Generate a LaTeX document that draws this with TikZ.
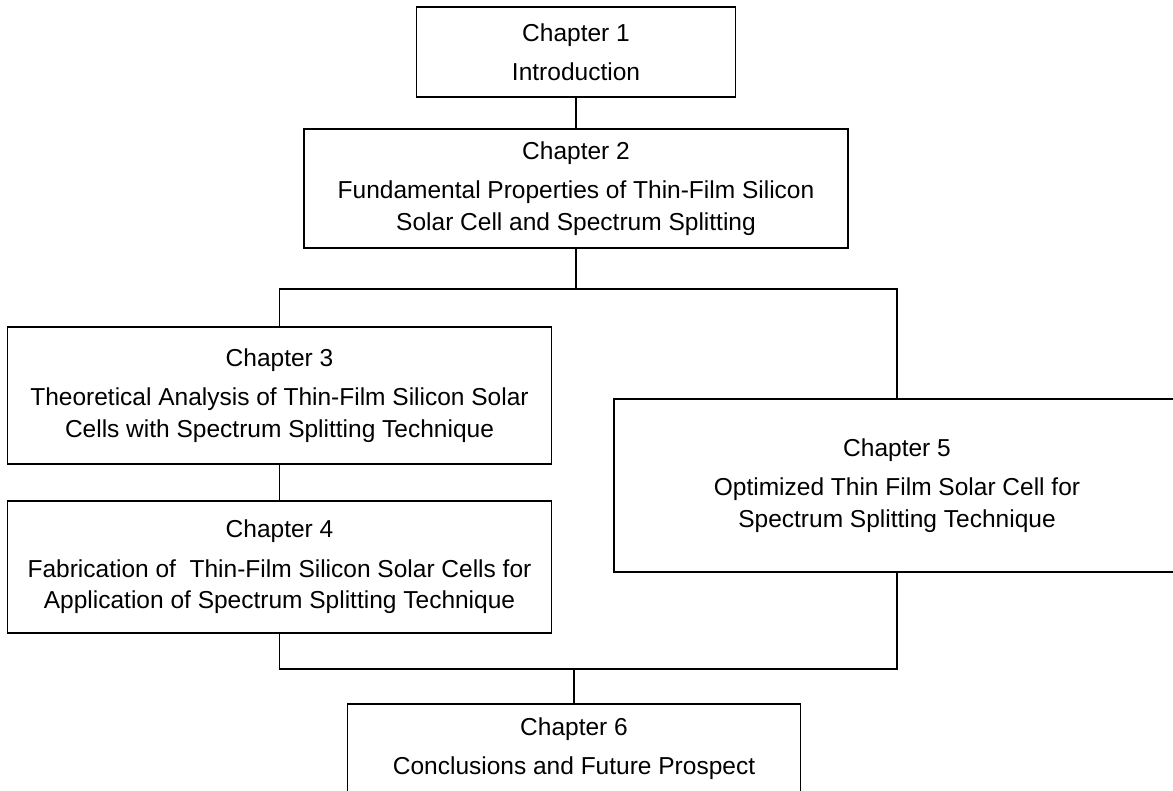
\documentclass[tikz,border=0pt]{standalone}
\usepackage{fontspec}
\setmainfont{Liberation Sans}
\begin{document}
\begin{tikzpicture}[x=1pt,y=-1pt,
  chbox/.style={draw=black, line width=1.3pt, rectangle, inner sep=0pt, align=center,
    font=\fontsize{24.5}{31.5}\selectfont},
  conn/.style={draw=black, line width=1.3pt}]
\useasboundingbox (0,0) rectangle (1173,791);
\clip (0,0) rectangle (1173,791);
\node[chbox, minimum width=319pt, minimum height=90pt] (c1) at (576,52)
  {Chapter 1\\[8pt]Introduction};
\node[chbox, minimum width=544pt, minimum height=119pt] (c2) at (576,188.5)
  {Chapter 2\\[8pt]Fundamental Properties of Thin-Film Silicon\\Solar Cell and Spectrum Splitting};
\node[chbox, minimum width=544pt, minimum height=137pt] (c3) at (279.5,395.5)
  {Chapter 3\\[8pt]Theoretical Analysis of Thin-Film Silicon Solar\\Cells with Spectrum Splitting Technique};
\node[chbox, minimum width=544pt, minimum height=132pt] (c4) at (279.5,567)
  {Chapter 4\\[8pt]Fabrication of\ \ Thin-Film Silicon Solar Cells for\\Application of Spectrum Splitting Technique};
\node[chbox, minimum width=566pt, minimum height=173pt] (c5) at (897,485.5)
  {Chapter 5\\[8pt]Optimized Thin Film Solar Cell for\\Spectrum Splitting Technique};
\node[chbox, minimum width=453pt, minimum height=89pt] (c6) at (574,748.5)
  {Chapter 6\\[8pt]Conclusions and Future Prospect};
\coordinate (j1) at (576,289);
\coordinate (j2) at (574,669);
\draw[conn] (c1.south) -- (c2.north);
\draw[conn] (c2.south) -- (j1);
\draw[conn] (c3.north) |- (j1) -| (c5.north);
\draw[conn] (c3.south) -- (c4.north);
\draw[conn] (c4.south) |- (j2) -| (c5.south);
\draw[conn] (j2) -- (c6.north);
\end{tikzpicture}
\end{document}
